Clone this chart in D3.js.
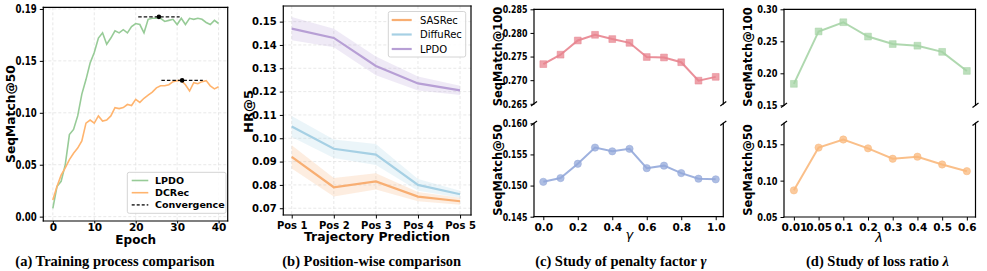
<!DOCTYPE html>
<html>
<head>
<meta charset="utf-8">
<script src="https://cdn.jsdelivr.net/npm/d3@7"></script>
<style>
body { margin: 0; background: #fff; }
text { font-family: "DejaVu Sans", sans-serif; }
.cap { font-family: "Liberation Serif", serif; font-weight: bold; font-size: 14.5px; }
</style>
</head>
<body>
<svg id="chart" width="987" height="271"></svg>
<script>
// (a) training curves
var epochs = [0,1,2,3,4,5,6,7,8,9,10,11,12,13,14,15,16,17,18,19,20,21,22,23,24,25,26,27,28,29,30,31,32,33,34,35,36,37,38,39,40];
var lpdoTrain = [0.008,0.029,0.034,0.050,0.079,0.084,0.097,0.118,0.132,0.148,0.158,0.172,0.177,0.166,0.172,0.179,0.177,0.180,0.177,0.183,0.186,0.185,0.177,0.190,0.191,0.191,0.191,0.188,0.189,0.190,0.185,0.191,0.185,0.191,0.190,0.191,0.190,0.187,0.185,0.189,0.186];
var dcrecTrain = [0.016,0.029,0.040,0.047,0.055,0.061,0.066,0.073,0.090,0.093,0.090,0.097,0.092,0.093,0.097,0.105,0.104,0.105,0.108,0.107,0.113,0.110,0.114,0.117,0.120,0.124,0.126,0.126,0.127,0.130,0.131,0.131,0.127,0.121,0.129,0.128,0.130,0.131,0.126,0.123,0.125];
var convEpochs = [25.6, 31.2];
var convValues = [0.1924, 0.1312];
var convHalf = 5;
var xTicksA = [0, 10, 20, 30, 40];
var yTicksA = [0, 0.05, 0.10, 0.15, 0.20];
var yLabelsA = ["0.00", "0.05", "0.10", "0.15", "0.19"];

// (b) position-wise
var positions = ["Pos 1", "Pos 2", "Pos 3", "Pos 4", "Pos 5"];
var sasrec = [0.092, 0.079, 0.0815, 0.075, 0.073];
var sasrecStd = [0.005, 0.004, 0.0035, 0.002, 0.0015];
var diffurec = [0.105, 0.0955, 0.093, 0.080, 0.076];
var diffurecStd = [0.0045, 0.004, 0.0045, 0.0025, 0.0015];
var lpdo = [0.147, 0.143, 0.131, 0.1235, 0.1205];
var lpdoStd = [0.005, 0.004, 0.004, 0.003, 0.002];
var yTicksB = [0.07, 0.08, 0.09, 0.10, 0.11, 0.12, 0.13, 0.14, 0.15];

// (c) penalty factor gamma
var gammas = [0.0, 0.1, 0.2, 0.3, 0.4, 0.5, 0.6, 0.7, 0.8, 0.9, 1.0];
var seq100Gamma = [0.2734, 0.2754, 0.2784, 0.2796, 0.2787, 0.2779, 0.2749, 0.2748, 0.2738, 0.2699, 0.2707];
var seq50Gamma = [0.1506, 0.1512, 0.1535, 0.1561, 0.1555, 0.1559, 0.1528, 0.1532, 0.1520, 0.1511, 0.1510];
var xTicksC = [0.0, 0.2, 0.4, 0.6, 0.8, 1.0];
var yTopC = [0.265, 0.270, 0.275, 0.280, 0.285];
var yBotC = [0.145, 0.150, 0.155, 0.160];

// (d) loss ratio lambda
var lambdas = ["0.01", "0.05", "0.1", "0.2", "0.3", "0.4", "0.5", "0.6"];
var seq100Lambda = [0.1835, 0.2654, 0.2798, 0.2574, 0.2457, 0.2431, 0.2335, 0.2037];
var seq50Lambda = [0.0866, 0.1454, 0.1565, 0.1444, 0.1301, 0.1329, 0.1222, 0.1130];
var yTopD = [0.15, 0.20, 0.25, 0.30];
var yBotD = [0.05, 0.10, 0.15];

var svg = d3.select("#chart");

// sx < 1 squeezes the tick labels sideways, like the reference's narrow y labels
function styleAxis(g, size, sx) {
    g.select(".domain").remove();
    g.selectAll(".tick line").attr("stroke", "#000").attr("stroke-width", 1);
    g.selectAll(".tick text")
        .attr("font-size", size)
        .attr("font-weight", "bold")
        .attr("fill", "#000")
        .attr("font-family", "DejaVu Sans");
    if (sx && sx !== 1) {
        g.selectAll(".tick text").each(function () {
            var t = d3.select(this);
            t.attr("x", +t.attr("x") / sx).attr("transform", "scale(" + sx + ",1)");
        });
    }
}

function spines(box, sides) {
    var segs = {
        l: [box.l, box.t, box.l, box.b],
        r: [box.r, box.t, box.r, box.b],
        t: [box.l, box.t, box.r, box.t],
        b: [box.l, box.b, box.r, box.b]
    };
    sides.split("").forEach(function (s) {
        var p = segs[s];
        svg.append("line")
            .attr("x1", p[0]).attr("y1", p[1]).attr("x2", p[2]).attr("y2", p[3])
            .attr("stroke", "#000").attr("stroke-width", 1.2)
            .attr("stroke-linecap", "square");
    });
}

function breakMarks(box, yy) {
    [box.l, box.r].forEach(function (xx) {
        svg.append("line")
            .attr("x1", xx - 3).attr("y1", yy + 2.2)
            .attr("x2", xx + 3).attr("y2", yy - 2.2)
            .attr("stroke", "#000").attr("stroke-width", 1.2);
    });
}

function yLabel(text, x, y, size) {
    svg.append("text")
        .attr("transform", "translate(" + x + "," + y + ") rotate(-90)")
        .attr("text-anchor", "middle")
        .attr("font-size", size)
        .attr("font-weight", "bold")
        .text(text);
}

function caption(x, parts) {
    var t = svg.append("text").attr("class", "cap")
        .attr("x", x).attr("y", 265.5).attr("text-anchor", "middle");
    parts.forEach(function (p) {
        var s = t.append("tspan").text(p[0]);
        if (p[1]) s.attr("font-style", "italic");
    });
}

function grid(xs, ys, xScale, yScale, box) {
    var g = svg.append("g");
    g.selectAll(".gx").data(xs).enter().append("line")
        .attr("x1", function (d) { return xScale(d); })
        .attr("x2", function (d) { return xScale(d); })
        .attr("y1", box.t).attr("y2", box.b)
        .attr("stroke", "#e2e2e2").attr("stroke-width", 0.8).attr("stroke-dasharray", "3,2");
    g.selectAll(".gy").data(ys).enter().append("line")
        .attr("y1", function (d) { return yScale(d); })
        .attr("y2", function (d) { return yScale(d); })
        .attr("x1", box.l).attr("x2", box.r)
        .attr("stroke", "#e2e2e2").attr("stroke-width", 0.8).attr("stroke-dasharray", "3,2");
}

// ---------- (a) ----------
var boxA = {l: 43.3, r: 227.7, t: 7.3, b: 221};
var xA = d3.scaleLinear().domain([-2.3, 42.2]).range([boxA.l, boxA.r]);
var yA = d3.scaleLinear().domain([-0.0042, 0.2016]).range([boxA.b, boxA.t]);
grid(xTicksA, yTicksA, xA, yA, boxA);

var lineA = function (vals) {
    return d3.line()
        .x(function (d, i) { return xA(epochs[i]); })
        .y(function (d) { return yA(d); })(vals);
};
svg.append("path").attr("d", lineA(lpdoTrain))
    .attr("fill", "none").attr("stroke", "#97cb97").attr("stroke-width", 1.6);
svg.append("path").attr("d", lineA(dcrecTrain))
    .attr("fill", "none").attr("stroke", "#ffb46e").attr("stroke-width", 1.6);

convEpochs.forEach(function (e, i) {
    svg.append("line")
        .attr("x1", xA(e - convHalf)).attr("x2", xA(e + convHalf))
        .attr("y1", yA(convValues[i])).attr("y2", yA(convValues[i]))
        .attr("stroke", "#111").attr("stroke-width", 1.1).attr("stroke-dasharray", "3.5,2");
    svg.append("circle").attr("cx", xA(e)).attr("cy", yA(convValues[i])).attr("r", 2.3).attr("fill", "#000");
});

svg.append("g").attr("transform", "translate(0," + boxA.b + ")")
    .call(d3.axisBottom(xA).tickValues(xTicksA).tickSize(2.5).tickPadding(0))
    .call(styleAxis, 10.5);
svg.append("g").attr("transform", "translate(" + boxA.l + ",0)")
    .call(d3.axisLeft(yA).tickValues(yTicksA).tickSize(3.5).tickPadding(3)
        .tickFormat(function (d, i) { return yLabelsA[i]; }))
    .call(styleAxis, 11.5, 0.75);
spines(boxA, "lrtb");
yLabel("SeqMatch@50", 15, 114, 12.3);
svg.append("text").attr("x", xA(20)).attr("y", 244)
    .attr("text-anchor", "middle").attr("font-size", 12).attr("font-weight", "bold").text("Epoch");

var legA = svg.append("g");
legA.append("rect").attr("x", 127.3).attr("y", 172.3).attr("width", 98.7).attr("height", 41)
    .attr("rx", 2).attr("fill", "#fff").attr("fill-opacity", 0.85).attr("stroke", "#d4d4d4");
[["LPDO", "#97cb97", null], ["DCRec", "#ffb46e", null], ["Convergence", "#444", "3,2"]].forEach(function (d, i) {
    var yy = 180.5 + i * 12.2;
    legA.append("line").attr("x1", 131.7).attr("x2", 148.3).attr("y1", yy).attr("y2", yy)
        .attr("stroke", d[1]).attr("stroke-width", 1.6).attr("stroke-dasharray", d[2]);
    legA.append("text").attr("x", 155).attr("y", yy + 3.4)
        .attr("font-size", 9.5).attr("font-weight", "bold").text(d[0]);
});
caption(115, [["(a) Training process comparison"]]);

// ---------- (b) ----------
var boxB = {l: 283.3, r: 471, t: 6, b: 215};
var xB = d3.scaleLinear().domain([-0.2, 4.26]).range([boxB.l, boxB.r]);
var yB = d3.scaleLinear().domain([0.0671, 0.1567]).range([boxB.b, boxB.t]);
grid([0, 1, 2, 3, 4], yTicksB, xB, yB, boxB);

var seriesB = [
    {name: "SASRec", vals: sasrec, std: sasrecStd, color: "#f8ae72"},
    {name: "DiffuRec", vals: diffurec, std: diffurecStd, color: "#a6d0e4"},
    {name: "LPDO", vals: lpdo, std: lpdoStd, color: "#b79fd5"}
];
seriesB.forEach(function (s) {
    var area = d3.area()
        .x(function (d, i) { return xB(i); })
        .y0(function (d, i) { return yB(d - s.std[i]); })
        .y1(function (d, i) { return yB(d + s.std[i]); });
    svg.append("path").attr("d", area(s.vals)).attr("fill", s.color).attr("fill-opacity", 0.22);
});
seriesB.forEach(function (s) {
    var line = d3.line()
        .x(function (d, i) { return xB(i); })
        .y(function (d) { return yB(d); });
    svg.append("path").attr("d", line(s.vals)).attr("fill", "none")
        .attr("stroke", s.color).attr("stroke-width", 2.2);
});
svg.append("g").attr("transform", "translate(0," + boxB.b + ")")
    .call(d3.axisBottom(xB).tickValues([0, 1, 2, 3, 4]).tickSize(3.5).tickPadding(3)
        .tickFormat(function (d) { return positions[d]; }))
    .call(styleAxis, 10);
svg.append("g").attr("transform", "translate(" + boxB.l + ",0)")
    .call(d3.axisLeft(yB).tickValues(yTicksB).tickSize(3.5).tickPadding(3).tickFormat(d3.format(".2f")))
    .call(styleAxis, 10);
spines(boxB, "lrtb");
yLabel("HR@5", 252.5, 111.5, 13);
svg.append("text").attr("x", 377).attr("y", 241)
    .attr("text-anchor", "middle").attr("font-size", 12.4).attr("font-weight", "bold").text("Trajectory Prediction");

var legB = svg.append("g");
legB.append("rect").attr("x", 388.3).attr("y", 11.5).attr("width", 77.4).attr("height", 45.5)
    .attr("rx", 2).attr("fill", "#fff").attr("fill-opacity", 0.85).attr("stroke", "#d4d4d4");
seriesB.forEach(function (s, i) {
    var yy = 20 + i * 14.5;
    legB.append("line").attr("x1", 391.7).attr("x2", 411.7).attr("y1", yy).attr("y2", yy)
        .attr("stroke", s.color).attr("stroke-width", 2.2);
    legB.append("text").attr("x", 420).attr("y", yy + 3.6).attr("font-size", 10).text(s.name);
});
caption(371.7, [["(b) Position-wise comparison"]]);

// ---------- (c) ----------
var boxC1 = {l: 534, r: 723.3, t: 9.3, b: 103.8};
var boxC2 = {l: 534, r: 723.3, t: 123.3, b: 216.7};
var xC = d3.scaleLinear().domain([-0.054, 1.044]).range([boxC1.l, boxC1.r]);
var yC1 = d3.scaleLinear().domain([0.265, 0.285]).range([boxC1.b, boxC1.t]);
var yC2 = d3.scaleLinear().domain([0.145, 0.160]).range([boxC2.b, boxC2.t]);

function markSeries(xs, vals, xScale, yScale, color, shape) {
    var line = d3.line()
        .x(function (d, i) { return xScale(xs[i]); })
        .y(function (d) { return yScale(d); });
    svg.append("path").attr("d", line(vals)).attr("fill", "none")
        .attr("stroke", color).attr("stroke-width", 2).attr("stroke-opacity", 0.9);
    var sym = d3.symbol().type(shape === "sq" ? d3.symbolSquare : d3.symbolCircle).size(shape === "sq" ? 46 : 42);
    svg.append("g").selectAll("path").data(vals).enter().append("path")
        .attr("d", sym)
        .attr("transform", function (d, i) { return "translate(" + xScale(xs[i]) + "," + yScale(d) + ")"; })
        .attr("fill", color).attr("fill-opacity", 0.75)
        .attr("stroke", color).attr("stroke-opacity", 0.5).attr("stroke-width", 1);
}
markSeries(gammas, seq100Gamma, xC, yC1, "#e8848f", "sq");
markSeries(gammas, seq50Gamma, xC, yC2, "#93a8da", "ci");

svg.append("g").attr("transform", "translate(" + boxC1.l + ",0)")
    .call(d3.axisLeft(yC1).tickValues(yTopC).tickSize(3.5).tickPadding(3).tickFormat(d3.format(".3f")))
    .call(styleAxis, 10.5, 0.75);
svg.append("g").attr("transform", "translate(" + boxC2.l + ",0)")
    .call(d3.axisLeft(yC2).tickValues(yBotC).tickSize(3.5).tickPadding(3).tickFormat(d3.format(".3f")))
    .call(styleAxis, 10.5, 0.75);
svg.append("g").attr("transform", "translate(0," + boxC2.b + ")")
    .call(d3.axisBottom(xC).tickValues(xTicksC).tickSize(3.5).tickPadding(3).tickFormat(d3.format(".1f")))
    .call(styleAxis, 10.5);
spines(boxC1, "lrt");
spines(boxC2, "lrb");
breakMarks(boxC1, boxC1.b);
breakMarks(boxC2, boxC2.t);
yLabel("SeqMatch@100", 501.5, 56.5, 11.5);
yLabel("SeqMatch@50", 501.5, 170, 11.5);
svg.append("text").attr("x", 629.3).attr("y", 239).attr("text-anchor", "middle")
    .attr("font-size", 13).attr("font-style", "italic").text("γ");
caption(620.8, [["(c) Study of penalty factor "], ["γ", true]]);

// ---------- (d) ----------
var boxD1 = {l: 784, r: 975.5, t: 9.3, b: 105.3};
var boxD2 = {l: 784, r: 975.5, t: 123.3, b: 217};
var idxD = [0, 1, 2, 3, 4, 5, 6, 7];
var xD = d3.scaleLinear().domain([-0.4, 7.35]).range([boxD1.l, boxD1.r]);
var yD1 = d3.scaleLinear().domain([0.15, 0.30]).range([boxD1.b, boxD1.t]);
var yD2 = d3.scaleLinear().domain([0.05, 0.1788]).range([boxD2.b, boxD2.t]);
markSeries(idxD, seq100Lambda, xD, yD1, "#a6d4a6", "sq");
markSeries(idxD, seq50Lambda, xD, yD2, "#f9b87c", "ci");

svg.append("g").attr("transform", "translate(" + boxD1.l + ",0)")
    .call(d3.axisLeft(yD1).tickValues(yTopD).tickSize(3.5).tickPadding(3).tickFormat(d3.format(".2f")))
    .call(styleAxis, 11, 0.75);
svg.append("g").attr("transform", "translate(" + boxD2.l + ",0)")
    .call(d3.axisLeft(yD2).tickValues(yBotD).tickSize(3.5).tickPadding(3).tickFormat(d3.format(".2f")))
    .call(styleAxis, 11, 0.75);
svg.append("g").attr("transform", "translate(0," + boxD2.b + ")")
    .call(d3.axisBottom(xD).tickValues(idxD).tickSize(3.5).tickPadding(3)
        .tickFormat(function (d) { return lambdas[d]; }))
    .call(styleAxis, 10.5);
spines(boxD1, "lrt");
spines(boxD2, "lrb");
breakMarks(boxD1, boxD1.b);
breakMarks(boxD2, boxD2.t);
yLabel("SeqMatch@100", 752, 57, 11.5);
yLabel("SeqMatch@50", 752, 170, 11.5);
svg.append("text").attr("x", 879).attr("y", 242).attr("text-anchor", "middle")
    .attr("font-size", 13).attr("font-style", "italic").text("λ");
caption(877.5, [["(d) Study of loss ratio "], ["λ", true]]);
</script>
</body>
</html>
